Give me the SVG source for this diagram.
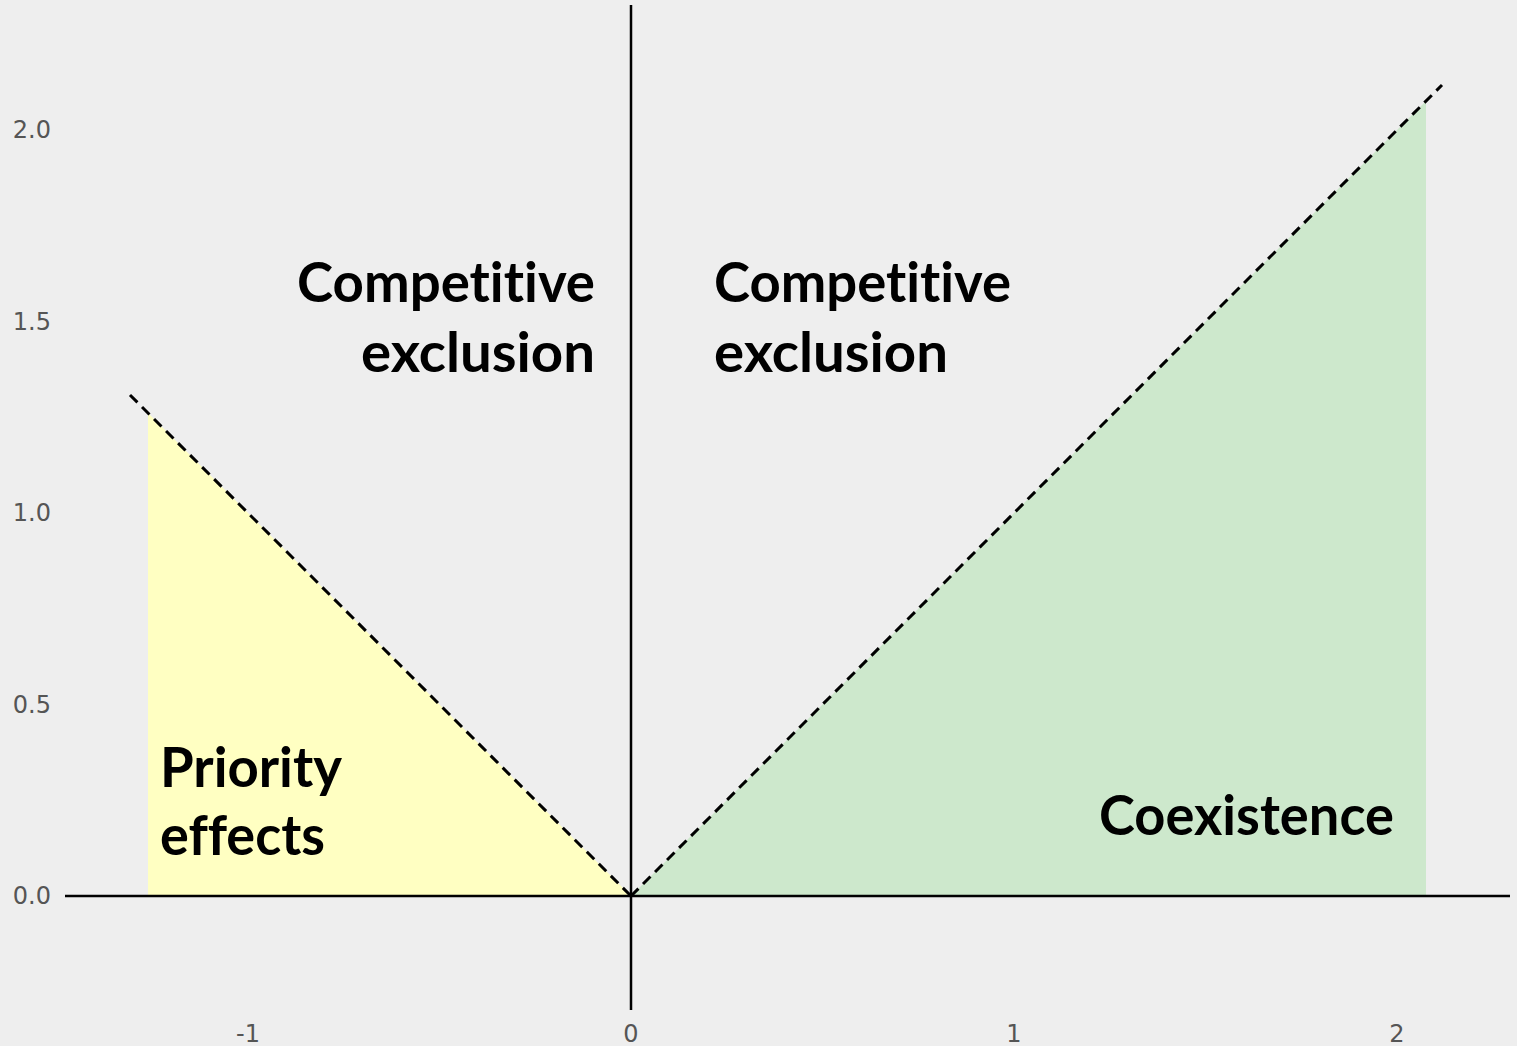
<svg xmlns="http://www.w3.org/2000/svg" width="1517" height="1046" viewBox="0 0 1517 1046">
  <style>
    .tick { font-family: "DejaVu Sans", sans-serif; font-size: 24px; fill: #555555; }
    .ytick { text-anchor: end; dominant-baseline: central; }
    .xtick { text-anchor: middle; }
    .label { font-family: Lato, "Open Sans", sans-serif; font-weight: bold; font-size: 56px; fill: #000000;
             font-variant-ligatures: none; font-feature-settings: "liga" 0, "clig" 0, "dlig" 0; }
    .axis { stroke: #000000; stroke-width: 2.5; fill: none; }
    .boundary { stroke: #000000; stroke-width: 3; stroke-dasharray: 10.5 6.5; fill: none; }
  </style>

  <!-- plot background -->
  <rect x="0" y="0" width="1517" height="1046" fill="#eeeeee"/>

  <!-- shaded regions -->
  <g id="priority-region">
    <polygon points="148,413 631,896 148,896" fill="#ffffc2"/>
  </g>
  <g id="coexistence-region">
    <polygon points="631,896 1426,101 1426,896" fill="#cde8cc"/>
  </g>

  <!-- axes and boundary lines -->
  <g id="connectors">
    <line class="axis" x1="65" y1="896" x2="1510" y2="896"/>
    <line class="axis" x1="631" y1="5" x2="631" y2="1010"/>
    <line class="boundary" x1="130" y1="395" x2="631" y2="896"/>
    <line class="boundary" x1="631" y1="896" x2="1442" y2="85"/>
  </g>

  <!-- tick labels -->
  <g id="y-ticks">
    <text class="tick ytick" x="51" y="130">2.0</text>
    <text class="tick ytick" x="51" y="322">1.5</text>
    <text class="tick ytick" x="51" y="513">1.0</text>
    <text class="tick ytick" x="51" y="705">0.5</text>
    <text class="tick ytick" x="51" y="896">0.0</text>
  </g>
  <g id="x-ticks">
    <text class="tick xtick" x="248" y="1042">-1</text>
    <text class="tick xtick" x="631" y="1042">0</text>
    <text class="tick xtick" x="1014" y="1042">1</text>
    <text class="tick xtick" x="1397" y="1042">2</text>
  </g>

  <!-- region labels -->
  <g id="label-exclusion-left">
    <text class="label" x="297" y="302" textLength="298" lengthAdjust="spacingAndGlyphs">Competitive</text>
    <text class="label" x="361" y="372" textLength="234" lengthAdjust="spacingAndGlyphs">exclusion</text>
  </g>
  <g id="label-exclusion-right">
    <text class="label" x="714" y="302" textLength="297" lengthAdjust="spacingAndGlyphs">Competitive</text>
    <text class="label" x="714" y="372" textLength="234" lengthAdjust="spacingAndGlyphs">exclusion</text>
  </g>
  <g id="label-priority">
    <text class="label" x="160" y="787" textLength="182" lengthAdjust="spacingAndGlyphs">Priority</text>
    <text class="label" x="160" y="855" textLength="165" lengthAdjust="spacingAndGlyphs">effects</text>
  </g>
  <g id="label-coexistence">
    <text class="label" x="1099" y="835" textLength="295" lengthAdjust="spacingAndGlyphs">Coexistence</text>
  </g>
</svg>
